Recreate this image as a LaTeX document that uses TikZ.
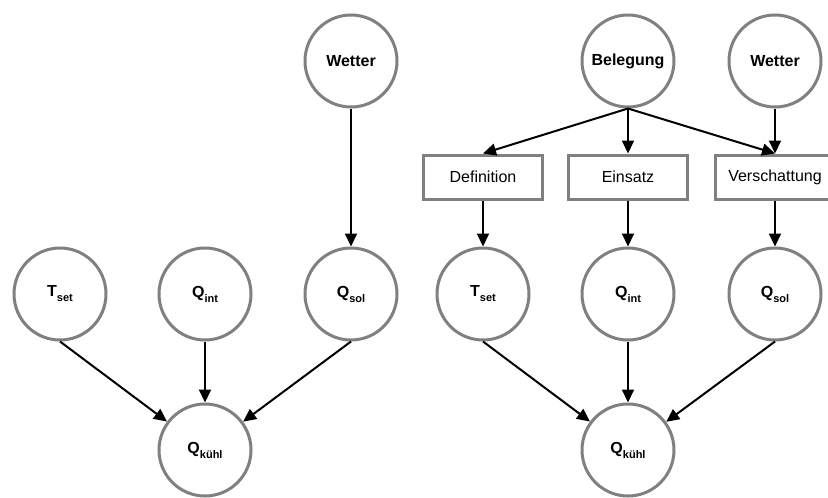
\documentclass[tikz,border=0pt]{standalone}
\usepackage{fontspec}
\setmainfont{Liberation Sans}
\usetikzlibrary{arrows.meta}
\definecolor{ringgray}{RGB}{128,128,128}
% variable name with a lowered, smaller index
\newcommand{\sublbl}[2]{#1\raisebox{-5pt}{\fontsize{11}{11}\selectfont #2}}
\begin{document}
\begin{tikzpicture}[x=1pt,y=-1pt,
  var/.style={circle, draw=ringgray, line width=3pt, minimum size=92pt,
    inner sep=0pt, font=\fontsize{16}{19}\selectfont\bfseries},
  proc/.style={rectangle, draw=ringgray, line width=3pt, minimum width=119pt,
    minimum height=44pt, inner sep=0pt, font=\fontsize{16}{19}\selectfont},
  link/.style={line width=2pt, -{Triangle[length=13pt,width=12pt]}}]
\clip (0,0) rectangle (828,498);

% simple model
\node[var] (lw) at (351,61) {Wetter};
\node[var] (lt) at (60,294) {\sublbl{T}{set}};
\node[var] (li) at (205,294) {\sublbl{Q}{int}};
\node[var] (ls) at (351,294) {\sublbl{Q}{sol}};
\node[var] (lk) at (205,450) {\sublbl{Q}{kühl}};

\draw[link] (lw.south) -- (ls.north);
\draw[link] (lt.south) -- (lk);
\draw[link] (li.south) -- (lk.north);
\draw[link] (ls.south) -- (lk);

% extended model with occupancy
\node[var] (rb) at (628,61) {Belegung};
\node[var] (rw) at (775,61) {Wetter};
\node[proc] (bd) at (483,177) {Definition};
\node[proc] (be) at (628,177) {Einsatz};
\node[proc] (bv) at (775,177) {Verschattung};
\node[var] (rt) at (483,294) {\sublbl{T}{set}};
\node[var] (ri) at (628,294) {\sublbl{Q}{int}};
\node[var] (rs) at (775,294) {\sublbl{Q}{sol}};
\node[var] (rk) at (628,450) {\sublbl{Q}{kühl}};

\draw[link] (rb.south) -- (bd.north);
\draw[link] (rb.south) -- (be.north);
\draw[link] (rb.south) -- (bv.north);
\draw[link] (rw.south) -- (bv.north);
\draw[link] (bd.south) -- (rt.north);
\draw[link] (be.south) -- (ri.north);
\draw[link] (bv.south) -- (rs.north);
\draw[link] (rt.south) -- (rk);
\draw[link] (ri.south) -- (rk.north);
\draw[link] (rs.south) -- (rk);
\end{tikzpicture}
\end{document}
